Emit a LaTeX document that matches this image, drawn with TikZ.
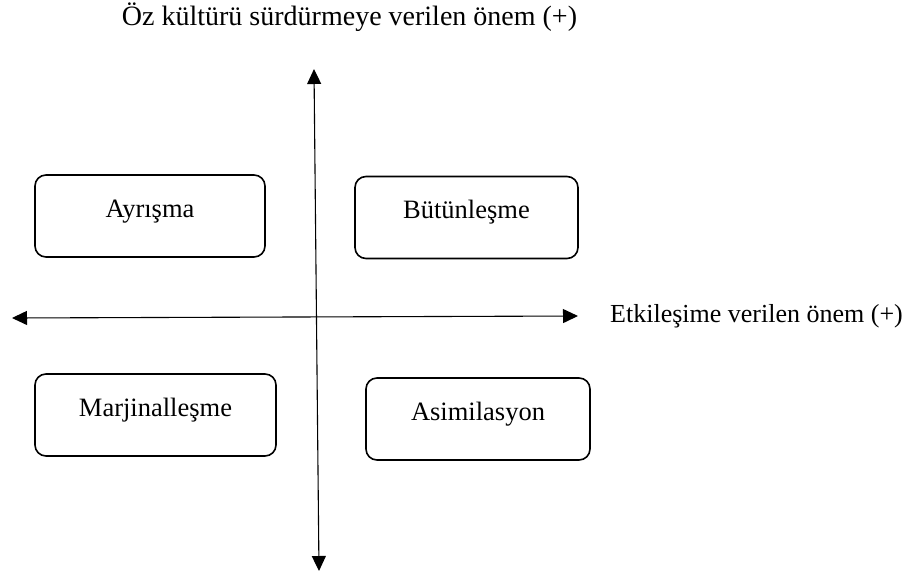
\documentclass[tikz,border=0pt]{standalone}
\usepackage{fontspec}
\setmainfont{Liberation Serif}
\usetikzlibrary{arrows.meta}
\begin{document}
\begin{tikzpicture}[x=1pt,y=-1pt,
  quadbox/.style={draw,line width=1.6pt,rounded corners=11pt,inner sep=0pt,
    text height=42pt,text depth=40pt,font=\fontsize{26.5}{30}\selectfont},
  axis/.style={line width=1.1pt,{Triangle[length=15pt,width=14pt]}-{Triangle[length=15pt,width=14pt]}},
  lab/.style={inner sep=0pt}]
\useasboundingbox (0,0) rectangle (923,573);
\coordinate (vt) at (314,69);
\coordinate (vb) at (319,571);
\coordinate (hl) at (12,318);
\coordinate (hr) at (578,316);
\draw[axis] (vt) -- (vb);
\draw[axis] (hl) -- (hr);
\node[lab,anchor=west,font=\fontsize{26}{30}\selectfont] (hlab) at (610,316) {Etkileşime verilen önem (+)};
\node[lab,font=\fontsize{28}{32}\selectfont] (vlab) at (349.5,17) {Öz kültürü sürdürmeye verilen önem (+)};
\node[quadbox,minimum width=230pt] (ayr) at (150,216) {Ayrışma};
\node[quadbox,minimum width=223pt] (but) at (466.5,217.5) {Bütünleşme};
\node[quadbox,minimum width=241pt] (mar) at (155.5,415) {Marjinalleşme};
\node[quadbox,minimum width=224pt] (asi) at (478,419) {Asimilasyon};
\end{tikzpicture}
\end{document}
